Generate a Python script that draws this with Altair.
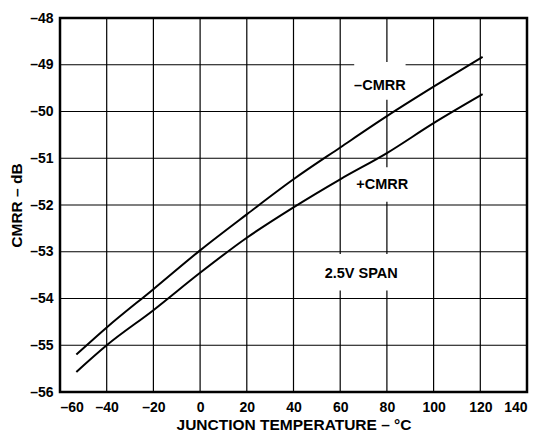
import altair as alt
import pandas as pd

# -CMRR curve
temp_neg = [-53, -40, -20, 0, 20, 40, 60, 80, 100, 121]
cmrr_neg = [-55.2, -54.62, -53.8, -52.97, -52.2, -51.45, -50.77, -50.1, -49.47, -48.83]
# +CMRR curve
temp_pos = [-53, -40, -20, 0, 20, 40, 60, 80, 100, 121]
cmrr_pos = [-55.57, -55.0, -54.25, -53.45, -52.7, -52.05, -51.45, -50.89, -50.25, -49.63]

# annotations
label_text = ["\u2013CMRR", "+CMRR", "2.5V SPAN"]
label_x = [77, 78, 69]
label_y = [-49.45, -51.58, -53.47]
box_x1 = [66, 66, 52]
box_x2 = [88, 90, 86]
box_y1 = [-48.94, -51.19, -53.05]
box_y2 = [-49.75, -51.93, -53.83]

x_ticks = list(range(-60, 141, 20))
y_ticks = list(range(-56, -47, 1))

FONT = "Liberation Sans"

lines_df = pd.DataFrame(
    {"t": temp_neg + temp_pos,
     "v": cmrr_neg + cmrr_pos,
     "s": ["neg"] * len(temp_neg) + ["pos"] * len(temp_pos)}
)
labels_df = pd.DataFrame({"text": label_text, "x": label_x, "y": label_y,
                          "x1": box_x1, "x2": box_x2, "y1": box_y1, "y2": box_y2})
xgrid_df = pd.DataFrame({"x": x_ticks})
ygrid_df = pd.DataFrame({"y": y_ticks})

label_expr = "datum.value < 0 ? '\u2013' + abs(datum.value) : '' + datum.value"

xscale = alt.Scale(domain=[-60, 140], nice=False)
yscale = alt.Scale(domain=[-56, -48], nice=False)

xaxis = alt.Axis(values=x_ticks, labelExpr=label_expr, title="JUNCTION TEMPERATURE \u2013 \u00b0C",
                 grid=False, titlePadding=3, labelPadding=8)
yaxis = alt.Axis(values=y_ticks, labelExpr=label_expr, title="CMRR \u2013 dB",
                 grid=False, titlePadding=5, labelPadding=7)

vgrid = alt.Chart(xgrid_df).mark_rule(color="black", strokeWidth=1.2).encode(
    x=alt.X("x:Q", scale=xscale, axis=xaxis)
)
hgrid = alt.Chart(ygrid_df).mark_rule(color="black", strokeWidth=1.2).encode(
    y=alt.Y("y:Q", scale=yscale, axis=yaxis)
)

lines = alt.Chart(lines_df).mark_line(color="black", strokeWidth=2, interpolate="monotone").encode(
    x=alt.X("t:Q", scale=xscale, axis=xaxis),
    y=alt.Y("v:Q", scale=yscale, axis=yaxis),
    detail="s:N",
)

boxes = alt.Chart(labels_df).mark_rect(color="white", opacity=1).encode(
    x=alt.X("x1:Q", scale=xscale, axis=xaxis),
    x2="x2:Q",
    y=alt.Y("y1:Q", scale=yscale, axis=yaxis),
    y2="y2:Q",
)

texts = alt.Chart(labels_df).mark_text(font=FONT, fontWeight="bold", fontSize=14.5,
                                       color="black").encode(
    x=alt.X("x:Q", scale=xscale, axis=xaxis),
    y=alt.Y("y:Q", scale=yscale, axis=yaxis),
    text="text:N",
)

chart = alt.layer(vgrid, hgrid, boxes, lines, texts).properties(
    width=467, height=374,
    autosize=alt.AutoSizeParams(type="none"),
    padding={"left": 52, "top": 10, "right": 4, "bottom": 40},
    background="white",
).configure_view(
    stroke="black", strokeWidth=2.5
).configure_axis(
    labelFont=FONT, labelFontWeight="bold", labelFontSize=14, labelColor="black",
    titleFont=FONT, titleFontWeight="bold", titleFontSize=15.5, titleColor="black",
    tickSize=0, domain=False,
)

chart.save("out.html", embed_options={"renderer": "svg", "actions": False})
